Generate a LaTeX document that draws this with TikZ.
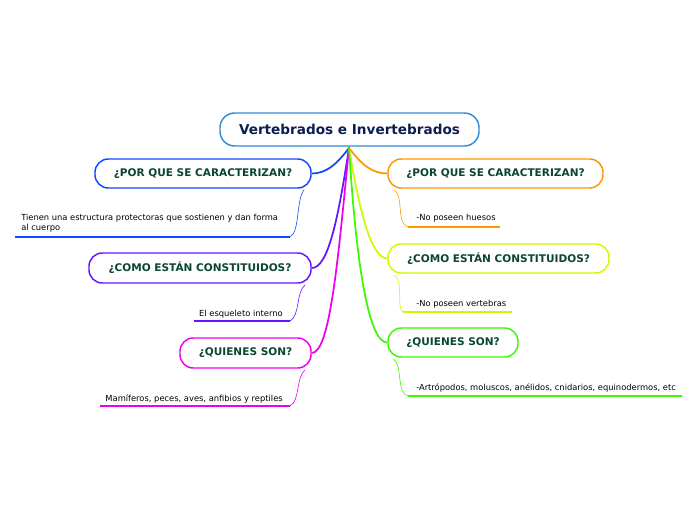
\documentclass[tikz,border=0pt]{standalone}
\usepackage{fontspec}
\setmainfont{DejaVu Sans}
\definecolor{rootc}{RGB}{51,140,214}
\definecolor{titlec}{RGB}{12,30,80}
\definecolor{labc}{RGB}{10,70,50}
\definecolor{cblue}{RGB}{20,70,255}
\definecolor{cpurp}{RGB}{100,20,255}
\definecolor{cmag}{RGB}{238,0,238}
\definecolor{corng}{RGB}{255,150,0}
\definecolor{cyel}{RGB}{210,248,0}
\definecolor{cgrn}{RGB}{60,248,0}
\tikzset{
  rootbox/.style={draw=rootc, line width=1.1pt, fill=white, rounded corners=11pt,
    minimum width=194.25pt, minimum height=24.75pt, inner sep=0pt,
    font=\fontsize{10.2}{12}\selectfont\bfseries, text=titlec},
  topbox/.style={draw=#1, line width=1.1pt, fill=white, rounded corners=10pt,
    minimum height=21.75pt, inner sep=0pt,
    font=\fontsize{7.9}{9}\selectfont\bfseries, text=labc},
  subtext/.style={inner sep=0pt, font=\fontsize{6.25}{7.2}\selectfont, text=black},
  mainlink/.style={draw=#1, line width=1.3pt},
  sublink/.style={draw=#1, line width=0.45pt},
  uline/.style={draw=#1, line width=1.8pt},
}
\begin{document}
\begin{tikzpicture}[x=0.75pt,y=-0.75pt]
\useasboundingbox (0,0) rectangle (696,520);
% root
\node[rootbox] (root) at (349.5,129.5) {Vertebrados e Invertebrados};
\coordinate (hub) at (349,148);
% left topics
\node[topbox=cblue, minimum width=162pt] (l1) at (203,173.5) {¿POR QUE SE CARACTERIZAN?};
\node[topbox=cpurp, minimum width=166.5pt, minimum height=22.5pt] (l2) at (200,268) {¿COMO ESTÁN CONSTITUIDOS?};
\node[topbox=cmag, minimum width=98.25pt, minimum height=22.5pt] (l3) at (245.5,353) {¿QUIENES SON?};
% right topics
\node[topbox=corng, minimum width=161.25pt] (r1) at (495.5,173.5) {¿POR QUE SE CARACTERIZAN?};
\node[topbox=cyel, minimum width=165.75pt] (r2) at (498.5,258.5) {¿COMO ESTÁN CONSTITUIDOS?};
\node[topbox=cgrn, minimum width=97.5pt] (r3) at (453,342.5) {¿QUIENES SON?};
% main connectors
\draw[mainlink=cblue] (hub) .. controls (336,165) and (326,173.5) .. (l1.east);
\draw[mainlink=cpurp] (hub) .. controls (338,220) and (328,268) .. (l2.east);
\draw[mainlink=cmag] (hub) .. controls (338,260) and (330,353) .. (l3.east);
\draw[mainlink=corng] (hub) .. controls (362,165) and (372,173.5) .. (r1.west);
\draw[mainlink=cyel] (hub) .. controls (360,215) and (372,258.5) .. (r2.west);
\draw[mainlink=cgrn] (hub) .. controls (356,260) and (368,342.5) .. (r3.west);
\draw[rootc, line width=1.1pt] (root.south) -- (hub);
% left subtopics
\node[subtext, anchor=north west, align=left] (s1) at (21,214) {Tienen una estructura protectoras que sostienen y dan forma\\al cuerpo};
\coordinate (s1a) at (15,237); \coordinate (s1b) at (290,237);
\draw[uline=cblue] (s1a) -- (s1b);
\coordinate (l1c) at (304,190);
\draw[sublink=cblue] (l1c) .. controls (296,200) and (300,232) .. (s1b);

\node[subtext, anchor=base east] (s2) at (283,316) {El esqueleto interno};
\coordinate (s2a) at (194,321); \coordinate (s2b) at (290,321);
\draw[uline=cpurp] (s2a) -- (s2b);
\coordinate (l2c) at (305,285);
\draw[sublink=cpurp] (l2c) .. controls (296,292) and (300,316) .. (s2b);

\node[subtext, anchor=base east] (s3) at (283,401) {Mamíferos, peces, aves, anfibios y reptiles};
\coordinate (s3a) at (100,406); \coordinate (s3b) at (290,406);
\draw[uline=cmag] (s3a) -- (s3b);
\coordinate (l3c) at (305,370);
\draw[sublink=cmag] (l3c) .. controls (296,377) and (300,401) .. (s3b);

% right subtopics
\node[subtext, anchor=base west] (t1) at (416,221) {-No poseen huesos};
\coordinate (t1a) at (408,227); \coordinate (t1b) at (500,227);
\draw[uline=corng] (t1a) -- (t1b);
\coordinate (r1c) at (394,190);
\draw[sublink=corng] (r1c) .. controls (404,195) and (396,224) .. (t1a);

\node[subtext, anchor=base west] (t2) at (416,306) {-No poseen vertebras};
\coordinate (t2a) at (403,312); \coordinate (t2b) at (512,312);
\draw[uline=cyel] (t2a) -- (t2b);
\coordinate (r2c) at (394,275);
\draw[sublink=cyel] (r2c) .. controls (404,280) and (396,309) .. (t2a);

\node[subtext, anchor=base west] (t3) at (416,390) {-Artrópodos, moluscos, anélidos, cnidarios, equinodermos, etc};
\coordinate (t3a) at (408,396); \coordinate (t3b) at (682,396);
\draw[uline=cgrn] (t3a) -- (t3b);
\coordinate (r3c) at (393,359);
\draw[sublink=cgrn] (r3c) .. controls (403,364) and (396,393) .. (t3a);
\end{tikzpicture}
\end{document}
